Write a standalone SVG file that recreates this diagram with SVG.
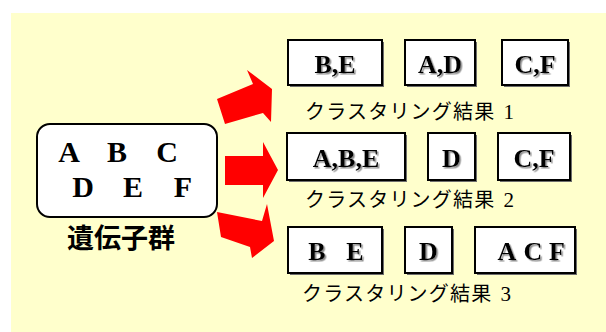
<svg xmlns="http://www.w3.org/2000/svg" width="606" height="332" viewBox="0 0 606 332">
<defs>
<filter id="ts" x="-10%" y="-10%" width="130%" height="130%">
<feDropShadow dx="1.5" dy="1.5" stdDeviation="0.4" flood-color="#808080" flood-opacity="0.9"/>
</filter>
</defs>
<style>
.box{fill:#fff;stroke:#000;stroke-width:2}
.sh{fill:#6e6e6e}
.lt{font-family:"Liberation Serif","Times New Roman",serif;font-weight:bold;font-size:26px;text-anchor:middle;filter:url(#ts)}
.gl{font-family:"Liberation Serif","Times New Roman",serif;font-weight:bold;font-size:30px;text-anchor:middle}
.jp{font-family:"Noto Sans CJK JP","Noto Sans",sans-serif;font-size:20px;fill:#000}
.num{font-family:"Liberation Serif","Times New Roman",serif;font-size:21px}
.arr{fill:#ff0000}
</style>
<rect x="11" y="13" width="595" height="319" fill="#ffffcc"/>
<g id="genes">
<rect x="37" y="124" width="180" height="93" rx="13" ry="13" class="box"/>
<text x="69" y="162" class="gl">A</text>
<text x="117" y="162" class="gl">B</text>
<text x="167" y="162" class="gl">C</text>
<text x="83" y="197" class="gl">D</text>
<text x="133" y="197" class="gl">E</text>
<text x="183" y="197" class="gl">F</text>
<text x="121" y="248" text-anchor="middle" style="font-family:'Noto Sans CJK JP',sans-serif;font-weight:bold;font-size:27px">遺伝子群</text>
</g>
<g id="connectors">
<polygon class="arr" points="247,70 272,89 271,122 263,113 225,124 217,99 253,84"/>
<polygon class="arr" points="225,156 263,156 263,142 278,170 263,198 263,185 225,185"/>
<polygon class="arr" points="217,212 262,221 267,204 274,241 252,258 250,247 221,237"/>
</g>
<g id="result1">
<rect x="290" y="42" width="94" height="45" class="sh"/>
<rect x="288" y="40" width="94" height="45" class="box"/>
<text x="335" y="73" class="lt">B,E</text>
<rect x="407" y="42" width="70" height="45" class="sh"/>
<rect x="405" y="40" width="70" height="45" class="box"/>
<text x="440" y="73" class="lt">A,D</text>
<rect x="504" y="42" width="66" height="45" class="sh"/>
<rect x="502" y="40" width="66" height="45" class="box"/>
<text x="535" y="73" class="lt">C,F</text>
<text x="305" y="119" class="jp" letter-spacing="1.2">クラスタリング結果<tspan class="num" dx="8">1</tspan></text>
</g>
<g id="result2">
<rect x="289" y="135" width="118" height="47" class="sh"/>
<rect x="287" y="133" width="118" height="47" class="box"/>
<text x="346" y="167" class="lt">A,B,E</text>
<rect x="430" y="135" width="47" height="47" class="sh"/>
<rect x="428" y="133" width="47" height="47" class="box"/>
<text x="451.5" y="167" class="lt">D</text>
<rect x="500" y="135" width="72" height="47" class="sh"/>
<rect x="498" y="133" width="72" height="47" class="box"/>
<text x="534" y="167" class="lt">C,F</text>
<text x="305" y="207" class="jp" letter-spacing="1.2">クラスタリング結果<tspan class="num" dx="8">2</tspan></text>
</g>
<g id="result3">
<rect x="290" y="229" width="94" height="46" class="sh"/>
<rect x="288" y="227" width="94" height="46" class="box"/>
<text x="317" y="260" class="lt">B</text>
<text x="355" y="260" class="lt">E</text>
<rect x="407" y="229" width="47" height="46" class="sh"/>
<rect x="405" y="227" width="47" height="46" class="box"/>
<text x="428.5" y="260" class="lt">D</text>
<rect x="477" y="229" width="100" height="46" class="sh"/>
<rect x="475" y="227" width="100" height="46" class="box"/>
<text x="507" y="260" class="lt">A</text>
<text x="533" y="260" class="lt">C</text>
<text x="557" y="260" class="lt">F</text>
<text x="302" y="301" class="jp" letter-spacing="1.2">クラスタリング結果<tspan class="num" dx="8">3</tspan></text>
</g>
</svg>
